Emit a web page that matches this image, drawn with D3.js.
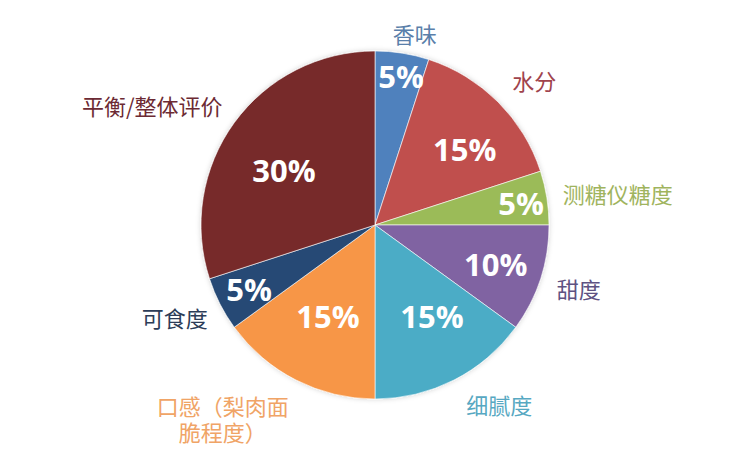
<!DOCTYPE html>
<html><head><meta charset="utf-8">
<script src="https://cdn.jsdelivr.net/npm/d3@7"></script>
<style>
html,body{margin:0;padding:0;background:#fff;}
svg{display:block;}
</style>
</head><body>
<svg id="chart" width="752" height="452"></svg>
<script>
// ---- data ----
const categories = ["香味","水分","测糖仪糖度","甜度","细腻度","口感（梨肉面脆程度）","可食度","平衡/整体评价"];
const values = [5, 15, 5, 10, 15, 15, 5, 30];
const labelLines = [["香味"],["水分"],["测糖仪糖度"],["甜度"],["细腻度"],["口感（梨肉面","脆程度）"],["可食度"],["平衡/整体评价"]];

// ---- style / layout ----
const sliceColors = ["#4f81bd","#c0504d","#9bbb59","#8064a2","#4bacc6","#f79646","#264a74","#772b2b"];
const textColors  = ["#5a7faa","#a0434c","#9fb45e","#5e5282","#57a8c2","#f0a466","#2c3d58","#6c2a33"];
const labelAnchor = ["middle","start","start","start","start","middle","middle","middle"];
const labelNudge = [[10,-4],[3,-11],[0,-2],[1,4],[5,10],[-66,11],[-31,6],[-69,-8]];
const pctNudge = [[3,-4],[12,2],[1,1],[0,0],[7,-7],[3,-7],[5,-3],[-2,10]];

const W = 752, H = 452, cx = 375, cy = 225, R = 174;
const svg = d3.select("#chart");

const defs = svg.append("defs");
const f = defs.append("filter").attr("id","sh").attr("x","-20%").attr("y","-20%").attr("width","140%").attr("height","140%");
f.append("feDropShadow").attr("dx",0).attr("dy",0).attr("stdDeviation",2.5).attr("flood-color","#000").attr("flood-opacity",0.18);

const pie = d3.pie().sort(null).value(d => d)(values);
const arc = d3.arc().innerRadius(0).outerRadius(R);
const g = svg.append("g").attr("transform",`translate(${cx},${cy})`);

g.append("g").attr("filter","url(#sh)")
 .selectAll("path").data(pie).join("path")
 .attr("d", arc)
 .attr("fill",(d,i)=>sliceColors[i])
 .attr("stroke","#fff").attr("stroke-width",0.6);

// percentage labels
const total = d3.sum(values);
const pctRadius = v => v <= 5 ? 147 : (v <= 10 ? 127 : 110);
g.selectAll("text.pct").data(pie).join("text")
 .attr("class","pct")
 .attr("transform", (d,i) => {
   const a = (d.startAngle + d.endAngle)/2;
   const r = pctRadius(d.value);
   return `translate(${r*Math.sin(a)+pctNudge[i][0]},${-r*Math.cos(a)+pctNudge[i][1]})`;
 })
 .attr("text-anchor","middle").attr("dominant-baseline","central")
 .attr("font-family","'Open Sans', 'DejaVu Sans', sans-serif")
 .attr("font-weight",700).attr("font-size",31).attr("fill","#fff")
 .text(d => Math.round(d.value/total*100) + "%");

// category labels
const LR = 190;
pie.forEach((d,i) => {
  const a = (d.startAngle + d.endAngle)/2;
  const x = LR*Math.sin(a) + labelNudge[i][0];
  const y = -LR*Math.cos(a) + labelNudge[i][1];
  const t = g.append("text")
    .attr("x", x).attr("y", y)
    .attr("text-anchor", labelAnchor[i])
    .attr("font-family","'Noto Sans CJK SC', sans-serif")
    .attr("font-size",22).attr("fill",textColors[i]);
  labelLines[i].forEach((ln,j) => {
    t.append("tspan").attr("x", x).attr("y", y + j*26)
     .attr("dominant-baseline","central").text(ln);
  });
});
</script>
</body></html>
